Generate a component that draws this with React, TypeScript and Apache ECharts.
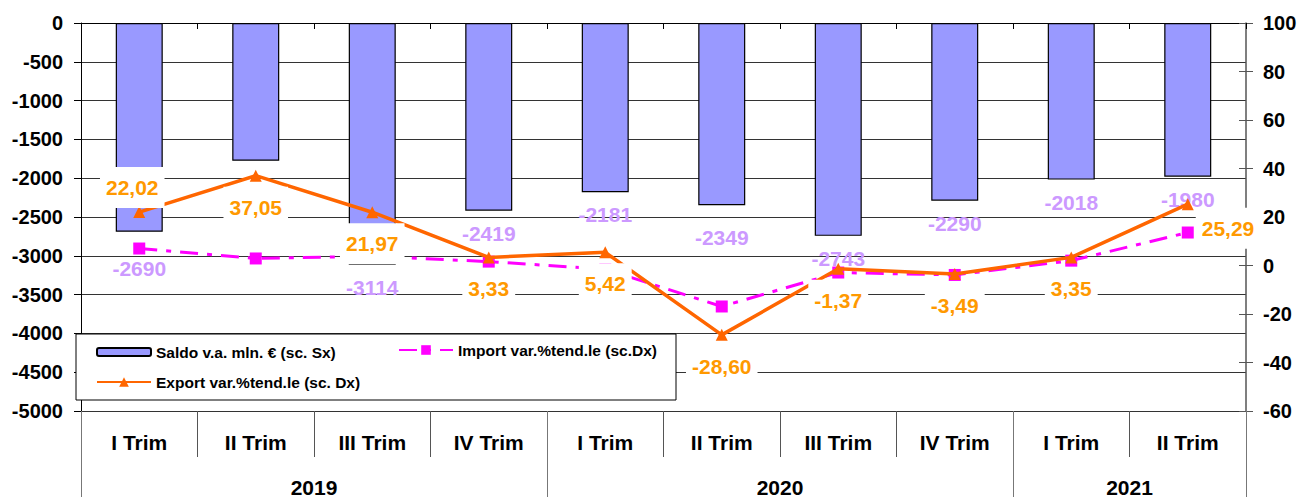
import React, { useEffect, useRef } from "react";
import * as echarts from "echarts";

const quarters = ["I Trim", "II Trim", "III Trim", "IV Trim", "I Trim", "II Trim", "III Trim", "IV Trim", "I Trim", "II Trim"];
const years = ["2019", "2020", "2021"];
const yearSpans = [4, 4, 2];
const saldo = [-2690, -1775, -3114, -2419, -2181, -2349, -2743, -2290, -2018, -1980];
const exportVar = [22.02, 37.05, 21.97, 3.33, 5.42, -28.6, -1.37, -3.49, 3.35, 25.29];
const importVar = [7.0, 2.9, 3.8, 1.6, -1.5, -16.9, -2.9, -3.9, 2.0, 13.6];

const FONT = "'Liberation Sans', Arial, Helvetica, sans-serif";

export default function App() {
  const ref = useRef<HTMLDivElement>(null);
  useEffect(() => {
    if (!ref.current) return;
    const chart = echarts.init(ref.current, undefined, { renderer: "svg" });

    const nBound = quarters.length + 1;
    const yearAxisData: string[] = new Array(nBound).fill("");
    const boundaryIdx = new Set<number>([0]);
    let start = 0;
    years.forEach((y, i) => {
      const center = start + yearSpans[i] / 2;
      yearAxisData[Math.round(center)] = y;
      start += yearSpans[i];
      boundaryIdx.add(start);
    });

    const fmtComma = (v: number) => v.toFixed(2).replace(".", ",");

    const exportData = exportVar.map((v, i) => {
      if (i === 0) return { value: v, label: { position: "top", distance: 0, offset: [-7, 2] } };
      if (i === exportVar.length - 1) return { value: v, label: { position: "right", distance: 2, offset: [0, 24] } };
      return v;
    });
    const saldoData = saldo.map((v, i) => {
      if (i === 1) return { value: v, label: { show: false } };
      if (i === 0) return { value: v, label: { distance: 26 } };
      if (i === 5) return { value: v, label: { distance: 22 } };
      return v;
    });

    const legendText = { fontFamily: FONT, fontSize: 15.5, fontWeight: "bold", color: "#000" };

    const option: any = {
      animation: false,
      textStyle: { fontFamily: FONT },
      grid: { left: 81, right: 54, top: 23, bottom: 86, containLabel: false },
      legend: [
        {
          data: ["Saldo v.a. mln. € (sc. Sx)"],
          left: 96, top: 344, padding: 0, itemWidth: 54, itemHeight: 8, itemGap: 0,
          textStyle: legendText, z: 20,
        },
        {
          data: ["Import var.%tend.le (sc.Dx)"],
          left: 398, top: 342, padding: 0, itemWidth: 54, itemHeight: 12, itemGap: 0,
          textStyle: legendText, z: 20,
        },
        {
          data: ["Export var.%tend.le (sc. Dx)"],
          left: 96, top: 374, padding: 0, itemWidth: 54, itemHeight: 12, itemGap: 0,
          textStyle: legendText, z: 20,
        },
      ],
      graphic: [
        {
          type: "rect",
          shape: { x: 76, y: 334, width: 600, height: 66 },
          style: { fill: "#fff", stroke: "#000", lineWidth: 1 },
          z: 8,
        },
      ],
      xAxis: [
        {
          type: "category",
          position: "bottom",
          data: quarters,
          boundaryGap: true,
          axisLine: { show: false, onZero: false },
          axisTick: { show: true, interval: 0, length: 46, lineStyle: { color: "#555", width: 1 } },
          axisLabel: { interval: 0, margin: 21, fontSize: 21, fontWeight: "bold", color: "#000", fontFamily: FONT },
          splitLine: { show: false },
        },
        {
          type: "category",
          position: "bottom",
          data: yearAxisData,
          boundaryGap: false,
          axisLine: { show: false, onZero: false },
          axisTick: {
            show: true,
            interval: (idx: number) => boundaryIdx.has(idx),
            length: 86,
            lineStyle: { color: "#777", width: 1 },
          },
          axisLabel: { interval: 0, margin: 66, fontSize: 21, fontWeight: "bold", color: "#000", fontFamily: FONT },
          splitLine: { show: false },
        },
        {
          type: "category",
          position: "top",
          data: quarters,
          boundaryGap: true,
          axisLine: { show: true, onZero: false, lineStyle: { color: "#000", width: 1 } },
          axisTick: { show: true, inside: true, interval: 0, length: 6, lineStyle: { color: "#000" } },
          axisLabel: { show: false },
          splitLine: { show: false },
        },
      ],
      yAxis: [
        {
          type: "value",
          position: "left",
          min: -5000,
          max: 0,
          interval: 500,
          axisLine: { show: true, onZero: false, lineStyle: { color: "#000", width: 1 } },
          axisTick: { show: true, length: 7, lineStyle: { color: "#000" } },
          axisLabel: {
            margin: 18, fontSize: 20, fontWeight: "bold", color: "#000", fontFamily: FONT,
            formatter: (v: number) => String(v),
          },
          splitLine: { show: true, lineStyle: { color: "#333", width: 1 } },
        },
        {
          type: "value",
          position: "right",
          min: -60,
          max: 100,
          interval: 20,
          axisLine: { show: true, onZero: false, lineStyle: { color: "#555", width: 1.5 } },
          axisTick: { show: true, length: 7, lineStyle: { color: "#555" } },
          axisLabel: {
            margin: 17, fontSize: 20, fontWeight: "bold", color: "#000", fontFamily: FONT,
            formatter: (v: number) => String(v),
          },
          splitLine: { show: false },
        },
        {
          type: "value",
          position: "right",
          min: -60,
          max: 100,
          interval: 20,
          axisLine: { show: false, onZero: false },
          axisTick: { show: true, inside: true, length: 7, lineStyle: { color: "#555" } },
          axisLabel: { show: false },
          splitLine: { show: false },
        },
      ],
      series: [
        {
          name: "Saldo v.a. mln. € (sc. Sx)",
          type: "bar",
          xAxisIndex: 0,
          yAxisIndex: 0,
          data: saldoData,
          barWidth: 47,
          z: 2,
          itemStyle: { color: "#9999FF", borderColor: "#000", borderWidth: 1.2 },
          label: {
            show: true,
            position: "bottom",
            distance: 12,
            color: "#CC99FF",
            fontSize: 21,
            fontWeight: "bold",
            fontFamily: FONT,
          },
        },
        {
          name: "Import var.%tend.le (sc.Dx)",
          type: "line",
          xAxisIndex: 0,
          yAxisIndex: 1,
          data: importVar,
          z: 3,
          symbol: "rect",
          symbolSize: 12,
          itemStyle: { color: "#FF00FF" },
          lineStyle: { color: "#FF00FF", width: 3, type: [18, 9, 5, 9] },
        },
        {
          name: "Export var.%tend.le (sc. Dx)",
          type: "line",
          xAxisIndex: 0,
          yAxisIndex: 1,
          data: exportData,
          z: 9,
          symbol: "triangle",
          symbolSize: 12,
          itemStyle: { color: "#FF6600" },
          lineStyle: { color: "#FF6600", width: 3.5 },
          label: {
            show: true,
            position: "bottom",
            distance: 5,
            color: "#FF9900",
            fontSize: 21,
            fontWeight: "bold",
            fontFamily: FONT,
            backgroundColor: "#fff",
            padding: [10, 6],
            formatter: (p: any) => fmtComma(p.value),
          },
        },
      ],
    };
    chart.setOption(option);
    return () => chart.dispose();
  }, []);
  return <div ref={ref} style={{ position: "fixed", left: 0, top: 0, width: 1300, height: 498, background: "#fff" }} />;
}
